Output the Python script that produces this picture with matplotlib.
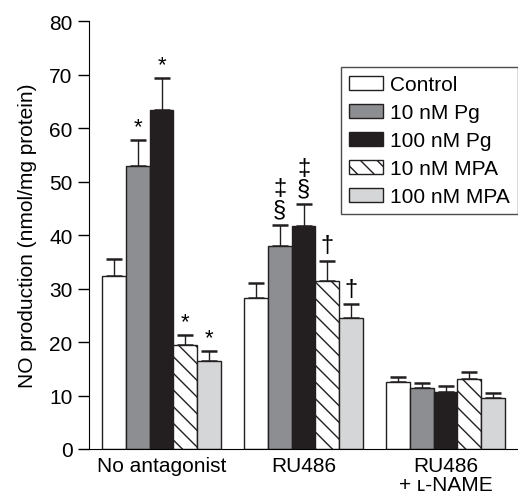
import numpy as np
import matplotlib.pyplot as plt

groups = ['No antagonist', 'RU486', 'RU486\n+ ʟ-NAME']
series = ['Control', '10 nM Pg', '100 nM Pg', '10 nM MPA', '100 nM MPA']
values = [
    [32.3, 28.2, 12.5],
    [53.0, 37.9, 11.4],
    [63.4, 41.6, 10.7],
    [19.4, 31.4, 13.0],
    [16.4, 24.4, 9.6],
]
errors = [
    [3.2, 2.9, 1.0],
    [4.8, 4.0, 0.9],
    [5.9, 4.2, 1.1],
    [1.9, 3.8, 1.4],
    [1.9, 2.7, 0.9],
]
marks = [
    ['', '', ''],
    ['*', '‡\n§', ''],
    ['*', '‡\n§', ''],
    ['*', '†', ''],
    ['*', '†', ''],
]

colors = ['white', '#8d8e92', '#231f20', 'white', '#d5d6d8']
hatches = [None, None, None, '\\\\', None]

plt.rcParams['font.family'] = 'Liberation Sans'
plt.rcParams['hatch.linewidth'] = 1.0

fig = plt.figure(figsize=(5.18, 5.02), dpi=100)
ax = fig.add_axes([0.172, 0.1036, 0.828, 0.8524])

x = np.arange(len(groups))
w = 0.168
for i in range(len(series)):
    pos = x + (i - 2) * w
    ax.bar(pos, values[i], w, color=colors[i], edgecolor='#231f20',
           linewidth=1.0, hatch=hatches[i], label=series[i], zorder=2)
    ax.errorbar(pos, values[i], yerr=[np.zeros(3), errors[i]], fmt='none',
                ecolor='#231f20', elinewidth=1.0, capsize=6, capthick=1.8, zorder=1)
    for j in range(len(groups)):
        m = marks[i][j]
        if m == '':
            continue
        top = values[i][j] + errors[i][j]
        if m == '*':
            ax.text(pos[j], top + 0.5, m, ha='center', va='bottom', fontsize=16)
        else:
            ax.text(pos[j], top + 0.8, m, ha='center', va='bottom', fontsize=17,
                    linespacing=0.95)

ax.set_xlim(-0.51, 2.51)
ax.set_ylim(0, 80)
ax.set_yticks(range(0, 81, 10))
ax.set_xticks(x)
ax.set_xticklabels(groups, fontsize=15, linespacing=1.0)
ax.tick_params(axis='y', labelsize=15, length=8, width=1.0, pad=4)
ax.tick_params(axis='x', length=0, pad=5)
ax.spines['top'].set_visible(False)
ax.spines['right'].set_visible(False)
ax.set_ylabel('NO production (nmol/mg protein)', fontsize=15, labelpad=9)

leg = ax.legend(loc='upper right', bbox_to_anchor=(1.0, 0.893), fontsize=15,
                frameon=True, fancybox=False, edgecolor='#231f20',
                handlelength=1.6, handleheight=0.65, handletextpad=0.35,
                labelspacing=0.43, borderpad=0.4, borderaxespad=0)
leg.get_frame().set_linewidth(1.0)

fig.savefig('out.png', dpi=100)
